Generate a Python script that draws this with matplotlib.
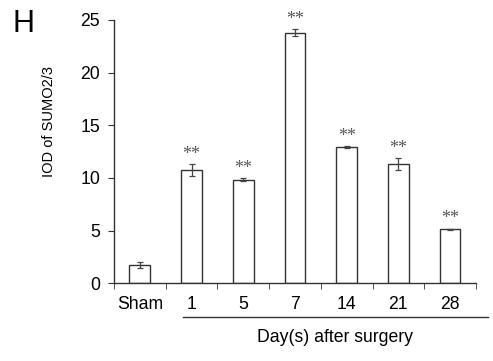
import numpy as np
import matplotlib.pyplot as plt
from matplotlib.lines import Line2D

plt.rcParams['font.family'] = ['Liberation Sans', 'DejaVu Sans']

# data
groups = ["Sham", "1", "5", "7", "14", "21", "28"]
iod_mean = [1.75, 10.75, 9.85, 23.8, 12.95, 11.35, 5.15]
iod_err = [0.30, 0.55, 0.18, 0.30, 0.08, 0.57, 0.05]
signif = ["", "**", "**", "**", "**", "**", "**"]

fig = plt.figure(figsize=(4.93, 3.61), dpi=100)
ax = fig.add_axes([0.2312, 0.2152, 0.7343, 0.7294])

x = np.arange(len(groups))
ax.bar(x, iod_mean, width=0.4, color="white", edgecolor="#333333", linewidth=1.0)
ax.errorbar(x, iod_mean, yerr=iod_err, fmt="none", ecolor="#444444",
            elinewidth=0.9, capsize=2.2, capthick=0.9)

for xi, m, e, s in zip(x, iod_mean, iod_err, signif):
    if s:
        ax.text(xi, m + e + 0.1, s, ha="center", va="bottom", family="Liberation Serif",
                fontsize=13, color="#555555")

ax.set_xlim(-0.5, len(groups) - 0.5)
ax.set_ylim(0, 25)
ax.set_yticks([0, 5, 10, 15, 20, 25])
ax.set_xticks(x)
ax.set_xticklabels(groups)
ax.set_xticks(np.arange(-0.5, len(groups)), minor=True)
ax.tick_params(axis="x", which="major", length=0, pad=9, labelsize=12.7)
ax.tick_params(axis="x", which="minor", length=4, direction="out", color="#333333")
ax.tick_params(axis="y", length=4, direction="out", labelsize=12.7, pad=6, color="#333333")

for side in ["top", "right"]:
    ax.spines[side].set_visible(False)
for side in ["left", "bottom"]:
    ax.spines[side].set_color("#333333")
    ax.spines[side].set_linewidth(1.0)

# bracket line under day groups
ax.add_line(Line2D([0.19, 1.033], [-0.128, -0.128], transform=ax.transAxes,
                   color="#333333", linewidth=1.0, clip_on=False))
ax.text(0.61, -0.205, "Day(s) after surgery", transform=ax.transAxes,
        ha="center", va="center", fontsize=12.7)

fig.text(0.099, 0.663, "IOD of SUMO2/3", rotation=90, ha="center", va="center", fontsize=10.5)
fig.text(0.048, 0.934, "H", ha="center", va="center", fontsize=22)

plt.savefig("out.png", dpi=100)
plt.close()
